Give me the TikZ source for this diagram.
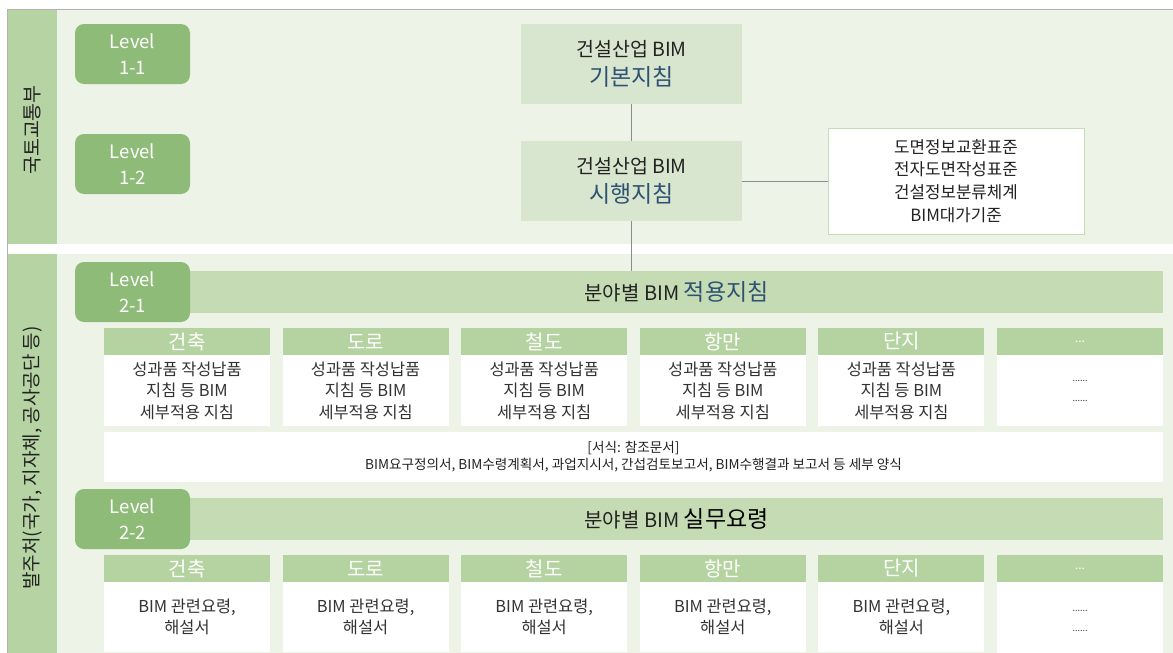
\documentclass[tikz,border=0pt]{standalone}
\usepackage{fontspec}
\setmainfont{Noto Sans CJK KR}
\definecolor{bandgreen}{HTML}{EDF3E7}
\definecolor{sidegreen}{HTML}{B6D3A3}
\definecolor{lvlgreen}{HTML}{8FBB79}
\definecolor{boxgreen}{HTML}{D9E6CF}
\definecolor{bargreen}{HTML}{C5DBB4}
\definecolor{hdrgreen}{HTML}{B5D3A0}
\definecolor{stdborder}{HTML}{C5DDB5}
\definecolor{darktext}{HTML}{222222}
\definecolor{bodytext}{HTML}{333333}
\definecolor{bluetext}{HTML}{2E5272}
\definecolor{linegray}{HTML}{8C8C8C}
\newcommand{\fs}[2]{\fontsize{#1}{#2}\selectfont}
\tikzset{
  lvlbox/.style={rounded corners=9pt, fill=lvlgreen, text=white, minimum width=115pt, minimum height=60pt, inner sep=0pt, align=center, font=\fs{18.5}{26}},
  guidebox/.style={fill=boxgreen, minimum width=221pt, minimum height=80pt, inner sep=0pt, align=center, text=darktext},
  barbox/.style={fill=bargreen, minimum width=973pt, minimum height=42pt, inner sep=0pt, text=darktext},
  hdrbox/.style={fill=hdrgreen, text=white, minimum width=166pt, minimum height=27pt, inner sep=0pt, font=\fs{20}{22}},
  bodybox/.style={fill=white, text=bodytext, minimum width=166pt, minimum height=71pt, inner sep=0pt, align=center, font=\fs{16.4}{21.5}},
  body2box/.style={bodybox, minimum height=70pt},
  dotsbox/.style={bodybox, font=\fs{9}{20}},
  connector/.style={draw=linegray, line width=0.9pt},
  sidetext/.style={rotate=90, text=darktext, font=\fs{19.5}{22}, inner sep=0pt}
}
\begin{document}
\begin{tikzpicture}[x=1pt, y=-1pt]
\useasboundingbox (0,0) rectangle (1173,653);
% bands
\fill[bandgreen] (57,10) rectangle (1173,244);
\fill[bandgreen] (57,254) rectangle (1173,653);
\fill[sidegreen] (8,10) rectangle (57,244);
\fill[sidegreen] (8,254) rectangle (57,653);
\draw[draw=gray!60, line width=1.5pt] (7.5,653) -- (7.5,9.5) -- (1173,9.5);
\node[sidetext] (side1) at (32.5,130) {국토교통부};
\node[sidetext, font=\fs{19}{22}] (side2) at (32.5,458) {발주처(국가, 지자체, 공사공단 등)};
% level 1
\node[lvlbox] (l11) at (132.5,54) {Level\\1-1};
\node[lvlbox] (l12) at (132.5,164) {Level\\1-2};
\node[guidebox] (basic) at (631.5,64) {{\fs{19.5}{22}건설산업 BIM}\\[7pt]{\fs{23}{24}\color{bluetext}기본지침}};
\node[guidebox] (exec) at (631.5,181) {{\fs{19.5}{22}건설산업 BIM}\\[7pt]{\fs{23}{24}\color{bluetext}시행지침}};
\node[draw=stdborder, line width=1pt, fill=white, minimum width=256pt, minimum height=106pt, inner sep=0pt, align=center, text=darktext, font=\fs{16.8}{22.7}] (std) at (956,181) {도면정보교환표준\\전자도면작성표준\\건설정보분류체계\\BIM대가기준};
% level 2-1
\node[barbox] (bar1) at (676.5,292) {{\fs{20}{22}분야별 BIM }{\fs{23}{24}\color{bluetext}적용지침}};
\node[lvlbox] (l21) at (132.5,292) {Level\\2-1};
\draw[connector] (basic.south) -- (exec.north);
\draw[connector] (exec.south) -- (exec.south |- bar1.north);
\draw[connector] (exec.east) -- (std.west);
% columns row 1
\foreach \n/\x/\t in {a/187/건축, b/365.6/도로, c/544.2/철도, d/722.8/항만, e/901.4/단지}{
  \node[hdrbox] (h1\n) at (\x,341.5) {\t};
  \node[bodybox] (c1\n) at (\x,390.5) {성과품 작성납품\\지침 등 BIM\\세부적용 지침};
}
\node[hdrbox, font=\fs{12}{14}] (h1f) at (1080,341.5) {...};
\node[dotsbox] (c1f) at (1080,390.5) {......\\......};
\node[fill=white, text=darktext, minimum width=1059pt, minimum height=50pt, inner sep=0pt, align=center, font=\fs{13.6}{17}] (form) at (633.5,457) {[서식: 참조문서]\\BIM요구정의서, BIM수령계획서, 과업지시서, 간섭검토보고서, BIM수행결과 보고서 등 세부 양식};
% level 2-2
\node[barbox] (bar2) at (676.5,519) {{\fs{20}{22}분야별 BIM }{\fs{23}{24}\color{black}실무요령}};
\node[lvlbox] (l22) at (132.5,519) {Level\\2-2};
\foreach \n/\x/\t in {a/187/건축, b/365.6/도로, c/544.2/철도, d/722.8/항만, e/901.4/단지}{
  \node[hdrbox] (h2\n) at (\x,568.5) {\t};
  \node[body2box, font=\fs{16.4}{20.5}] (c2\n) at (\x,617) {BIM 관련요령,\\해설서};
}
\node[hdrbox, font=\fs{12}{14}] (h2f) at (1080,568.5) {...};
\node[dotsbox, minimum height=78pt] (c2f) at (1080,621) {......\\......};
\end{tikzpicture}
\end{document}
